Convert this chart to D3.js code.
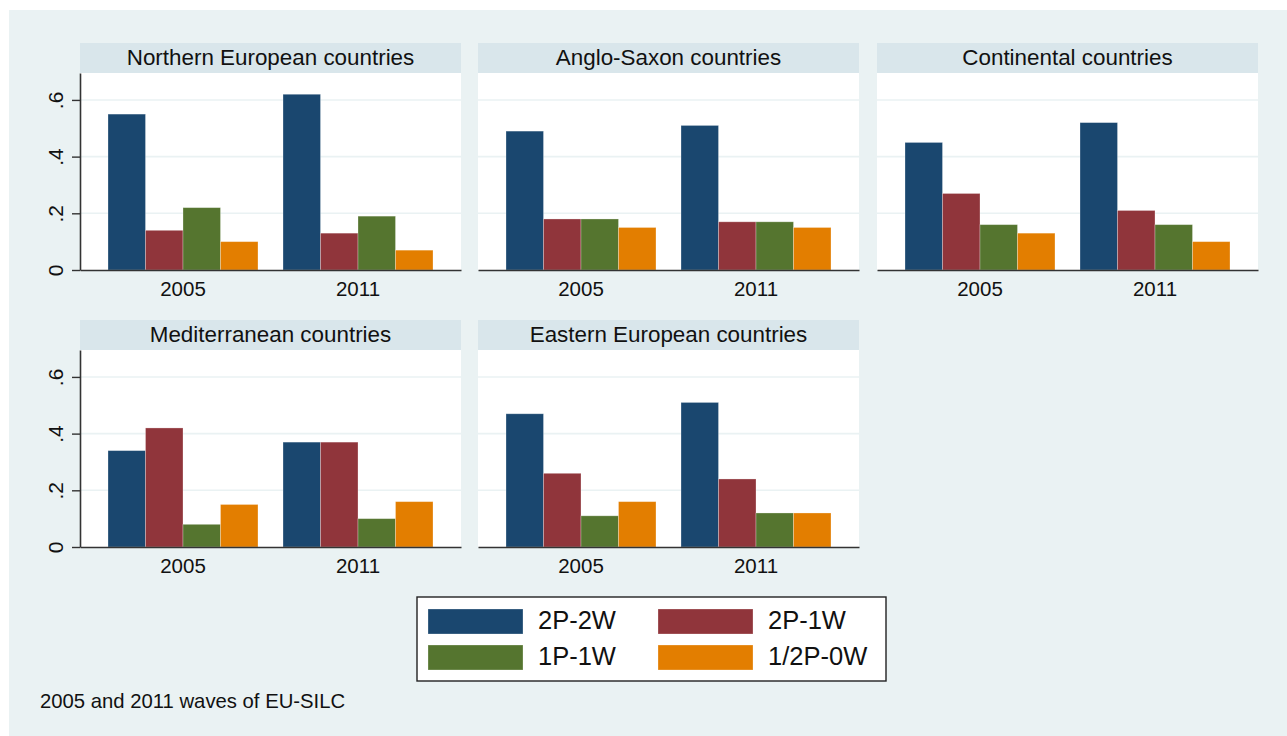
<!DOCTYPE html>
<html>
<head>
<meta charset="utf-8">
<script src="https://cdn.jsdelivr.net/npm/d3@7"></script>
<style>
  html, body { margin: 0; padding: 0; background: #fff; }
  svg { display: block; font-family: "Liberation Sans", Arial, sans-serif; }
</style>
</head>
<body>
<svg id="chart"></svg>
<script>
// data
const regions = ["Northern European countries", "Anglo-Saxon countries", "Continental countries",
                 "Mediterranean countries", "Eastern European countries"];
const years = ["2005", "2011"];
const series = ["2P-2W", "2P-1W", "1P-1W", "1/2P-0W"];
const yTicks = [0, 0.2, 0.4, 0.6];
const footnote = "2005 and 2011 waves of EU-SILC";

// values per region: [2005 values, 2011 values], in series order
const northern      = [[0.55, 0.14, 0.22, 0.10], [0.62, 0.13, 0.19, 0.07]];
const angloSaxon    = [[0.49, 0.18, 0.18, 0.15], [0.51, 0.17, 0.17, 0.15]];
const continental   = [[0.45, 0.27, 0.16, 0.13], [0.52, 0.21, 0.16, 0.10]];
const mediterranean = [[0.34, 0.42, 0.08, 0.15], [0.37, 0.37, 0.10, 0.16]];
const eastern       = [[0.47, 0.26, 0.11, 0.16], [0.51, 0.24, 0.12, 0.12]];
const regionValues = [northern, angloSaxon, continental, mediterranean, eastern];

const colors = ["#1a476f", "#90353b", "#55752f", "#e37e00"];

const width = 1287, height = 736;
const svg = d3.select("#chart").attr("width", width).attr("height", height);

// graph background
svg.append("rect").attr("x", 9).attr("y", 10)
  .attr("width", width - 9).attr("height", height - 10)
  .attr("fill", "#eaf2f3");

const panelW = 381, stripH = 30, plotH = 197;
const colX = [80, 478, 877];
const rowY = [43, 320]; // top of title strip

const y = d3.scaleLinear().domain([0, 0.695]).range([plotH, 0]);
const x0 = d3.scaleBand().domain(years).range([0, panelW]).paddingInner(0.143).paddingOuter(0.16);
const x1 = d3.scaleBand().domain(series).range([0, x0.bandwidth()]).padding(0);
const color = d3.scaleOrdinal().domain(series).range(colors);

regions.forEach((name, i) => {
  const col = i % 3, row = Math.floor(i / 3);
  const g = svg.append("g").attr("transform", `translate(${colX[col]}, ${rowY[row]})`);

  // title strip
  g.append("rect").attr("width", panelW).attr("height", stripH).attr("fill", "#d9e6eb");
  g.append("text").attr("x", panelW / 2).attr("y", stripH / 2 + 1)
    .attr("text-anchor", "middle").attr("dominant-baseline", "middle")
    .attr("font-size", 22.4).attr("fill", "#111").text(name);

  const plot = g.append("g").attr("transform", `translate(0, ${stripH})`);
  plot.append("rect").attr("width", panelW).attr("height", plotH).attr("fill", "#fff");

  // grid lines
  plot.selectAll("line.grid").data(yTicks.filter(t => t > 0)).enter().append("line")
    .attr("x1", 0).attr("x2", panelW)
    .attr("y1", d => y(d)).attr("y2", d => y(d))
    .attr("stroke", "#eaf2f3").attr("stroke-width", 1.6);

  // bars
  const groups = plot.selectAll("g.year").data(years).enter().append("g")
    .attr("transform", d => `translate(${x0(d)}, 0)`);
  groups.selectAll("rect")
    .data((d, yi) => series.map((s, si) => ({ s, v: regionValues[i][yi][si] })))
    .enter().append("rect")
    .attr("x", d => x1(d.s))
    .attr("y", d => y(d.v))
    .attr("width", x1.bandwidth())
    .attr("height", d => y(0) - y(d.v))
    .attr("fill", d => color(d.s))
    .attr("stroke", "rgba(255,255,255,0.35)").attr("stroke-width", 0.8);

  // x axis
  const xAxis = plot.append("g").attr("transform", `translate(0, ${plotH})`)
    .call(d3.axisBottom(x0).tickSize(0).tickPadding(11.5));
  xAxis.select(".domain").attr("stroke", "#333").attr("stroke-width", 1.6);
  xAxis.selectAll("text").attr("font-size", 20.5).attr("fill", "#111")
    .attr("font-family", "Liberation Sans, Arial, sans-serif");

  // y axis only on the first column
  if (col === 0) {
    const yAxis = plot.append("g")
      .call(d3.axisLeft(y).tickValues(yTicks).tickSize(8).tickPadding(6)
        .tickSizeOuter(0)
        .tickFormat(d => d === 0 ? "0" : d3.format(".1f")(d).replace(/^0/, "")));
    yAxis.select(".domain").attr("stroke", "#333").attr("stroke-width", 1.6);
    yAxis.selectAll(".tick line").attr("stroke", "#333").attr("stroke-width", 1.4);
    yAxis.selectAll("text")
      .attr("font-size", 21).attr("fill", "#111")
      .attr("font-family", "Liberation Sans, Arial, sans-serif")
      .attr("transform", "rotate(-90)")
      .attr("x", 0).attr("y", -23)
      .attr("dy", 0)
      .attr("text-anchor", "middle")
      .attr("dominant-baseline", "middle");
  }
});

// legend
const legend = svg.append("g").attr("transform", "translate(417, 597)");
legend.append("rect").attr("width", 469).attr("height", 84)
  .attr("fill", "#fff").attr("stroke", "#222").attr("stroke-width", 1.4);
const legendItems = legend.selectAll("g.item").data(series).enter().append("g")
  .attr("transform", (d, k) => `translate(${k % 2 === 0 ? 11 : 241}, ${k < 2 ? 12 : 48})`);
legendItems.append("rect").attr("width", 95).attr("height", 25).attr("fill", d => color(d))
  .attr("stroke", "rgba(255,255,255,0.35)").attr("stroke-width", 0.8);
legendItems.append("text").attr("x", 110).attr("y", 13.5)
  .attr("dominant-baseline", "middle").attr("font-size", 25.5).attr("fill", "#111").text(d => d);

// note
svg.append("text").attr("x", 40).attr("y", 703)
  .attr("dominant-baseline", "middle").attr("font-size", 20.3).attr("fill", "#111").text(footnote);
</script>
</body>
</html>
